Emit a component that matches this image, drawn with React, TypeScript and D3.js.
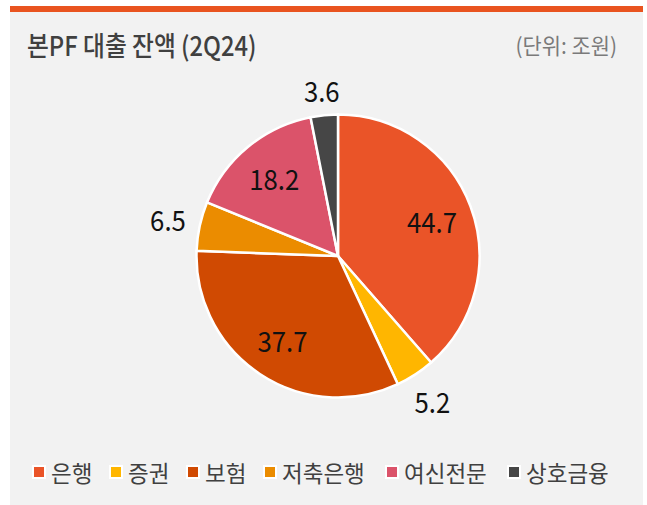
import React from "react";
import * as d3 from "d3";

const categories = ["은행", "증권", "보험", "저축은행", "여신전문", "상호금융"];
const values = [44.7, 5.2, 37.7, 6.5, 18.2, 3.6];
const valueLabels = ["44.7", "5.2", "37.7", "6.5", "18.2", "3.6"];
const colors = ["#EA5428", "#FFB600", "#D04A02", "#EB8C00", "#DB536A", "#464646"];
const insideThreshold = 10;

const W = 647;
const H = 505;
const FONT = "'Noto Sans CJK KR', 'Noto Sans', sans-serif";

export default function App() {
  const cx = 338;
  const cy = 256;
  const r = 141.5;
  const pie = d3.pie<number>().sort(null).value((d) => d);
  const arcs = pie(values);
  const arcGen = d3.arc<d3.PieArcDatum<number>>().innerRadius(0).outerRadius(r);
  const numSize = 28;
  const numScale = 0.92;

  // legend layout
  const legendFont = 22.5;
  const legendY = 472;
  let lx = 33;
  const legendItems = categories.map((c, i) => {
    const x = lx;
    const textW = c.length * legendFont;
    lx += 12 + 6 + textW + 14;
    return { c, i, x };
  });

  return (
    <svg
      width={W}
      height={H}
      style={{ position: "absolute", left: 0, top: 0, display: "block" }}
      fontFamily={FONT}
    >
      <rect x={0} y={0} width={W} height={H} fill="#ffffff" />
      <rect x={10} y={12} width={633} height={H - 12} fill="#F2F2F2" />
      <rect x={10} y={6} width={633} height={6} fill="#E9541F" />
      <text transform="translate(27,56) scale(0.88,1)" fontSize={27} fontWeight={500} fill="#404040">
        본PF 대출 잔액 (2Q24)
      </text>
      <text transform="translate(617,54) scale(0.95,1)" fontSize={22} fill="#7a7a7a" textAnchor="end">
        (단위: 조원)
      </text>
      <g transform={`translate(${cx},${cy})`}>
        {arcs.map((a, i) => (
          <path key={i} d={arcGen(a) || ""} fill={colors[i]} stroke="#ffffff" strokeWidth={2.5} />
        ))}
        {arcs.map((a, i) => {
          const mid = (a.startAngle + a.endAngle) / 2;
          const sx = Math.sin(mid);
          const sy = -Math.cos(mid);
          let x: number, y: number;
          if (values[i] >= insideThreshold) {
            x = sx * r * 0.71;
            y = sy * r * 0.71;
          } else {
            const w = valueLabels[i].length * numSize * 0.42;
            const h = numSize * 0.75;
            const d = r + 13 + (w / 2) * Math.abs(sx) + (h / 2) * Math.abs(sy);
            x = sx * d;
            y = sy * d;
          }
          return (
            <text
              key={i}
              transform={`translate(${x},${y}) scale(${numScale},1)`}
              fontSize={numSize}
              fill="#111"
              textAnchor="middle"
              dominantBaseline="central"
            >
              {valueLabels[i]}
            </text>
          );
        })}
      </g>
      <g>
        {legendItems.map(({ c, i, x }) => (
          <g key={i}>
            <rect x={x} y={legendY - 6} width={12} height={12} fill={colors[i]} stroke="#ffffff" strokeWidth={2} />
            <text x={x + 18} y={legendY} fontSize={legendFont} fill="#404040" dominantBaseline="central">
              {c}
            </text>
          </g>
        ))}
      </g>
    </svg>
  );
}
